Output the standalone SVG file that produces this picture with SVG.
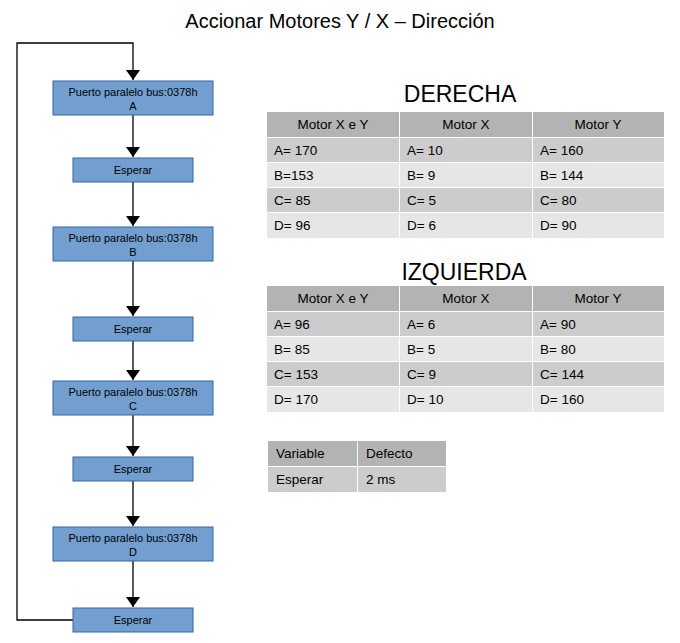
<svg xmlns="http://www.w3.org/2000/svg" width="680" height="643" viewBox="0 0 680 643">
<style>
text{font-family:"Liberation Sans",Arial,sans-serif}
.n rect{fill:#729fcf;stroke:#3465a4;stroke-width:1}
.n text{font-size:11px;text-anchor:middle;fill:#000}
.c{stroke:#000;stroke-width:1.3;fill:none}
.h{fill:#b3b3b3}.r1{fill:#cccccc}.r2{fill:#e6e6e6}
.t{font-size:13.5px;fill:#000}
.tc{text-anchor:middle}
</style>
<defs><marker id="a" markerWidth="10" markerHeight="14" refX="10" refY="7" orient="auto" markerUnits="userSpaceOnUse"><path d="M0,0 L10,7 L0,14 Z" fill="#000"/></marker></defs>
<rect width="680" height="643" fill="#fff"/>
<text x="340" y="28" font-size="20" text-anchor="middle">Accionar Motores Y / X – Dirección</text>
<g id="connectors">
<path class="c" d="M73,620 H17 V43 H133 V80" marker-end="url(#a)"/>
<path class="c" d="M133,115 V157" marker-end="url(#a)"/>
<path class="c" d="M133,182 V226" marker-end="url(#a)"/>
<path class="c" d="M133,261 V316" marker-end="url(#a)"/>
<path class="c" d="M133,341 V380" marker-end="url(#a)"/>
<path class="c" d="M133,415 V456" marker-end="url(#a)"/>
<path class="c" d="M133,481 V526" marker-end="url(#a)"/>
<path class="c" d="M133,561 V607" marker-end="url(#a)"/>
</g>
<g id="pA" class="n"><rect x="53" y="81" width="160" height="34"/><text x="133" y="96">Puerto paralelo bus:0378h</text><text x="133" y="110">A</text></g>
<g id="e1" class="n"><rect x="73" y="158" width="120" height="24"/><text x="133" y="174">Esperar</text></g>
<g id="pB" class="n"><rect x="53" y="227" width="160" height="34"/><text x="133" y="242">Puerto paralelo bus:0378h</text><text x="133" y="256">B</text></g>
<g id="e2" class="n"><rect x="73" y="317" width="120" height="24"/><text x="133" y="333">Esperar</text></g>
<g id="pC" class="n"><rect x="53" y="381" width="160" height="34"/><text x="133" y="396">Puerto paralelo bus:0378h</text><text x="133" y="410">C</text></g>
<g id="e3" class="n"><rect x="73" y="457" width="120" height="24"/><text x="133" y="473">Esperar</text></g>
<g id="pD" class="n"><rect x="53" y="527" width="160" height="34"/><text x="133" y="542">Puerto paralelo bus:0378h</text><text x="133" y="556">D</text></g>
<g id="e4" class="n"><rect x="73" y="608" width="120" height="24"/><text x="133" y="624">Esperar</text></g>

<g id="derecha">
<text x="460" y="102" font-size="23" text-anchor="middle">DERECHA</text>
<rect class="h" x="267" y="112" width="132" height="25"/><rect class="h" x="400" y="112" width="132" height="25"/><rect class="h" x="533" y="112" width="131" height="25"/>
<rect class="r1" x="267" y="138" width="132" height="24"/><rect class="r1" x="400" y="138" width="132" height="24"/><rect class="r1" x="533" y="138" width="131" height="24"/>
<rect class="r2" x="267" y="163" width="132" height="24"/><rect class="r2" x="400" y="163" width="132" height="24"/><rect class="r2" x="533" y="163" width="131" height="24"/>
<rect class="r1" x="267" y="188" width="132" height="24"/><rect class="r1" x="400" y="188" width="132" height="24"/><rect class="r1" x="533" y="188" width="131" height="24"/>
<rect class="r2" x="267" y="213" width="132" height="25"/><rect class="r2" x="400" y="213" width="132" height="25"/><rect class="r2" x="533" y="213" width="131" height="25"/>
<text class="t tc" x="333" y="129">Motor X e Y</text><text class="t tc" x="466" y="129">Motor X</text><text class="t tc" x="598" y="129">Motor Y</text>
<text class="t" x="274" y="155">A= 170</text><text class="t" x="407" y="155">A= 10</text><text class="t" x="540" y="155">A= 160</text>
<text class="t" x="274" y="180">B=153</text><text class="t" x="407" y="180">B= 9</text><text class="t" x="540" y="180">B= 144</text>
<text class="t" x="274" y="205">C= 85</text><text class="t" x="407" y="205">C= 5</text><text class="t" x="540" y="205">C= 80</text>
<text class="t" x="274" y="230">D= 96</text><text class="t" x="407" y="230">D= 6</text><text class="t" x="540" y="230">D= 90</text>
</g>
<g id="izquierda">
<text x="464" y="280" font-size="23" text-anchor="middle">IZQUIERDA</text>
<rect class="h" x="267" y="286" width="132" height="25"/><rect class="h" x="400" y="286" width="132" height="25"/><rect class="h" x="533" y="286" width="131" height="25"/>
<rect class="r1" x="267" y="312" width="132" height="24"/><rect class="r1" x="400" y="312" width="132" height="24"/><rect class="r1" x="533" y="312" width="131" height="24"/>
<rect class="r2" x="267" y="337" width="132" height="24"/><rect class="r2" x="400" y="337" width="132" height="24"/><rect class="r2" x="533" y="337" width="131" height="24"/>
<rect class="r1" x="267" y="362" width="132" height="24"/><rect class="r1" x="400" y="362" width="132" height="24"/><rect class="r1" x="533" y="362" width="131" height="24"/>
<rect class="r2" x="267" y="387" width="132" height="25"/><rect class="r2" x="400" y="387" width="132" height="25"/><rect class="r2" x="533" y="387" width="131" height="25"/>
<text class="t tc" x="333" y="303">Motor X e Y</text><text class="t tc" x="466" y="303">Motor X</text><text class="t tc" x="598" y="303">Motor Y</text>
<text class="t" x="274" y="329">A= 96</text><text class="t" x="407" y="329">A= 6</text><text class="t" x="540" y="329">A= 90</text>
<text class="t" x="274" y="354">B= 85</text><text class="t" x="407" y="354">B= 5</text><text class="t" x="540" y="354">B= 80</text>
<text class="t" x="274" y="379">C= 153</text><text class="t" x="407" y="379">C= 9</text><text class="t" x="540" y="379">C= 144</text>
<text class="t" x="274" y="404">D= 170</text><text class="t" x="407" y="404">D= 10</text><text class="t" x="540" y="404">D= 160</text>
</g>
<g id="vars">
<rect class="h" x="268" y="441" width="89" height="25"/><rect class="h" x="358" y="441" width="88" height="25"/>
<rect class="r1" x="268" y="467" width="89" height="25"/><rect class="r1" x="358" y="467" width="88" height="25"/>
<text class="t" x="276" y="458">Variable</text><text class="t" x="366" y="458">Defecto</text>
<text class="t" x="276" y="484">Esperar</text><text class="t" x="366" y="484">2 ms</text>
</g>
</svg>
